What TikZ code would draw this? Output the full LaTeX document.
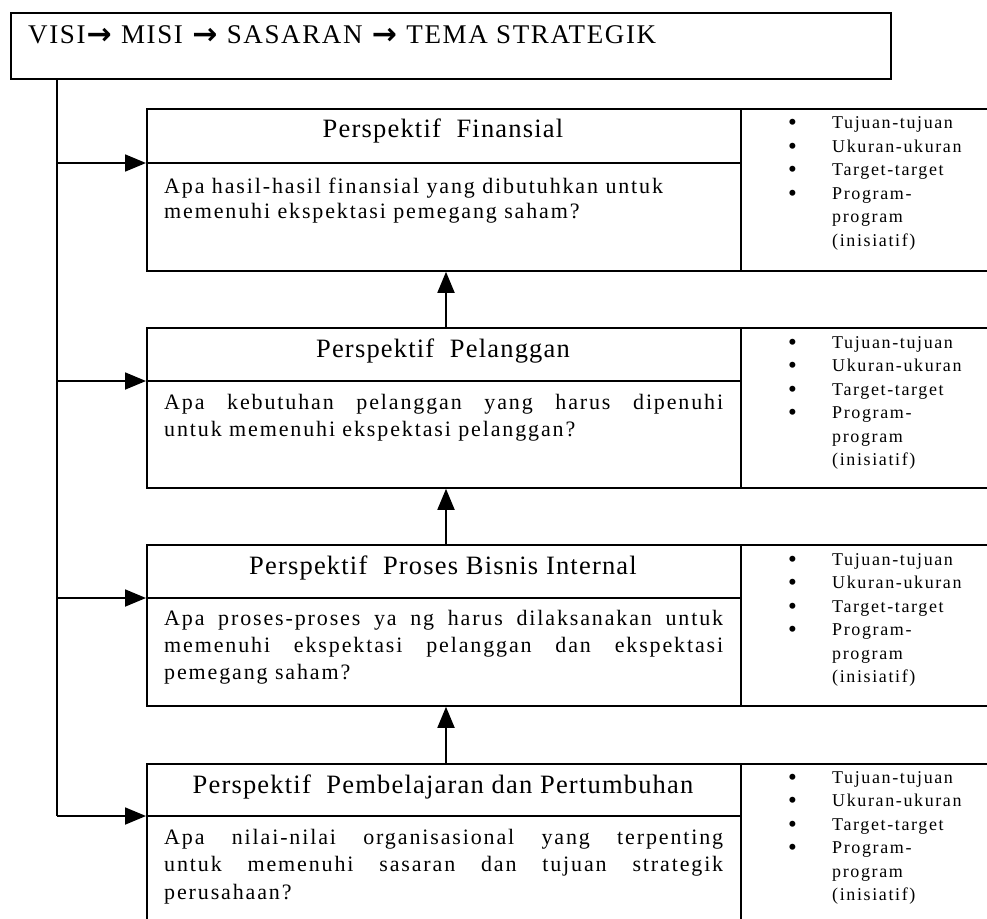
\documentclass[tikz,border=0pt]{standalone}
\usepackage{fontspec}
\setmainfont{Liberation Serif}
\newfontfamily\titlefont[LetterSpace=6]{Liberation Serif}
\newfontfamily\arrowfont{DejaVu Sans}
\newfontfamily\headfont[LetterSpace=4.5]{Liberation Serif}
\newfontfamily\bodyfont[LetterSpace=8.5]{Liberation Serif}
\newfontfamily\listfont[LetterSpace=9]{Liberation Serif}
\usetikzlibrary{arrows.meta}
\newcommand{\bul}{\makebox[44pt][l]{\raisebox{-2pt}{\fontsize{25}{25}\selectfont\textbullet}}}
\newcommand{\ind}{\hspace*{44pt}}
\newcommand{\jline}[1]{\makebox[559pt][s]{#1}}
\newcommand{\thenarrow}{{\arrowfont\bfseries\fontsize{30}{30}\selectfont\kern1pt\raisebox{-1pt}{→}\kern1pt}}
\begin{document}
\begin{tikzpicture}[x=1pt,y=-1pt,
  frame/.style={draw, line width=1.8pt, rectangle, anchor=north west, inner sep=0pt},
  rule/.style={line width=1.6pt},
  arr/.style={line width=1.8pt, -{Triangle[length=21pt,width=17pt]}},
  titletext/.style={font=\titlefont\fontsize{27}{32}\selectfont, anchor=base west, inner sep=0pt},
  head/.style={font=\headfont\fontsize{26.5}{30}\selectfont, anchor=base, inner sep=0pt},
  body/.style={font=\bodyfont\fontsize{22}{27}\selectfont, anchor=base west, align=left, inner sep=0pt},
  list/.style={font=\listfont\fontsize{18}{23.5}\selectfont, anchor=base west, align=left, inner sep=0pt}
]
\clip (0,0) rectangle (987,918);
\fill[white] (0,0) rectangle (987,918);

% shared x positions
\coordinate (sp) at (57,0);    % vertical feed line
\coordinate (cx) at (741,0);   % column divider
\coordinate (ax) at (446,0);   % upward connectors

% top box
\node[frame, minimum width=880pt, minimum height=66pt] (visi) at (10,12) {};
\node[titletext] (visit) at (28,43) {VISI\thenarrow{} MISI \thenarrow{} SASARAN \thenarrow{} TEMA STRATEGIK};

% perspective boxes
\node[frame, minimum width=860pt, minimum height=162pt] (fbox) at (146,108) {};
\node[frame, minimum width=860pt, minimum height=160pt] (cbox) at (146,327) {};
\node[frame, minimum width=860pt, minimum height=161pt] (ibox) at (146,544) {};
\node[frame, minimum width=860pt, minimum height=170pt] (lbox) at (146,763) {};

\coordinate (fdiv) at (0,163);
\coordinate (cdiv) at (0,381);
\coordinate (idiv) at (0,598);
\coordinate (ldiv) at (0,816);

% column and header dividers
\foreach \b/\d in {fbox/fdiv, cbox/cdiv, ibox/idiv, lbox/ldiv}{
  \draw[rule] (\b.north -| cx) -- (\b.south -| cx);
  \draw[rule] (\b.west |- \d) -- (cx |- \d);
}

% headers
\node[head] (fh) at (443,137) {Perspektif\ \ Finansial};
\node[head] (ch) at (443,357) {Perspektif\ \ Pelanggan};
\node[head] (ih) at (443,574) {Perspektif\ \ Proses Bisnis Internal};
\node[head] (lh) at (443,793) {Perspektif\ \ Pembelajaran dan Pertumbuhan};

% questions (anchored on the baseline of the last line)
\node[body] (fb) at (164,218) {Apa hasil-hasil finansial yang dibutuhkan untuk\\[-2pt]
  memenuhi ekspektasi pemegang saham?};
\node[body] (cb) at (164,436) {\jline{Apa kebutuhan pelanggan yang harus dipenuhi}\\
  untuk memenuhi ekspektasi pelanggan?};
\node[body] (ib) at (164,679) {\jline{Apa proses-proses ya ng harus dilaksanakan untuk}\\
  \jline{memenuhi ekspektasi pelanggan dan ekspektasi}\\
  pemegang saham?};
\node[body] (lb) at (164,899) {\jline{Apa nilai-nilai organisasional yang terpenting}\\[0.5pt]
  \jline{untuk memenuhi sasaran dan tujuan strategik}\\[0.5pt]
  perusahaan?};

% item lists (anchored on the baseline of the last line)
\foreach \n/\y in {fl/246, cl/465.5, il/682.5, ll/900.5}{
  \node[list] (\n) at (788,\y) {\bul Tujuan-tujuan\\ \bul Ukuran-ukuran\\
    \bul Target-target\\ \bul Program-\\ \ind program\\ \ind (inisiatif)};
}

% feed line and arrows
\draw[rule] (visi.south -| sp) -- (sp |- ldiv);
\draw[arr] (sp |- fdiv) -- (fbox.west |- fdiv);
\draw[arr] (sp |- cdiv) -- (cbox.west |- cdiv);
\draw[arr] (sp |- idiv) -- (ibox.west |- idiv);
\draw[arr] (sp |- ldiv) -- (lbox.west |- ldiv);

% upward connectors
\draw[arr] (cbox.north -| ax) -- (fbox.south -| ax);
\draw[arr] (ibox.north -| ax) -- (cbox.south -| ax);
\draw[arr] (lbox.north -| ax) -- (ibox.south -| ax);
\end{tikzpicture}
\end{document}
